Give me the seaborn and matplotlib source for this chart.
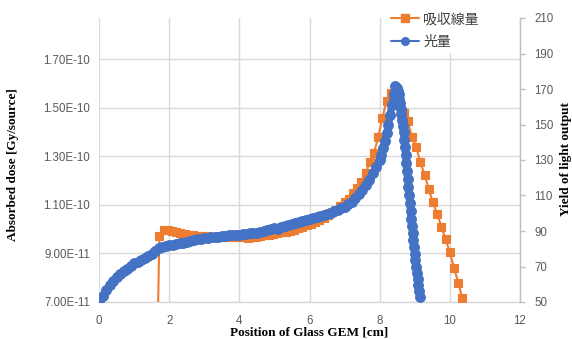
import matplotlib
matplotlib.use("Agg")
import matplotlib.pyplot as plt
import seaborn as sns
import pandas as pd
from matplotlib.ticker import FuncFormatter, FixedLocator
from matplotlib.lines import Line2D

# ---------------- data ----------------
# Absorbed dose (left axis) [Gy/source]
dose_x = [1.60, 1.72, 1.84, 1.96, 2.08, 2.20, 2.32, 2.44, 2.56, 2.68, 2.80, 2.92,
          3.04, 3.16, 3.28, 3.40, 3.52, 3.64, 3.76, 3.88, 4.00, 4.12, 4.24, 4.36,
          4.48, 4.60, 4.72, 4.84, 4.96, 5.08, 5.20, 5.32, 5.44, 5.56, 5.68, 5.80,
          5.92, 6.04, 6.16, 6.28, 6.40, 6.52, 6.64, 6.76, 6.88, 7.00, 7.12, 7.24,
          7.36, 7.48, 7.60, 7.72, 7.84, 7.96, 8.08, 8.20, 8.32, 8.44, 8.56, 8.68,
          8.80, 8.92, 9.04, 9.16, 9.28, 9.40, 9.52, 9.64, 9.76, 9.88, 10.00, 10.12,
          10.24, 10.36]
dose_y = [0.0, 9.70e-11, 9.95e-11, 9.97e-11, 9.93e-11, 9.88e-11, 9.84e-11, 9.80e-11,
          9.77e-11, 9.74e-11, 9.72e-11, 9.70e-11, 9.70e-11, 9.69e-11, 9.69e-11,
          9.68e-11, 9.68e-11, 9.67e-11, 9.67e-11, 9.67e-11, 9.67e-11, 9.66e-11,
          9.65e-11, 9.66e-11, 9.68e-11, 9.72e-11, 9.74e-11, 9.77e-11, 9.80e-11,
          9.84e-11, 9.87e-11, 9.90e-11, 9.94e-11, 9.98e-11, 1.004e-10, 1.010e-10,
          1.016e-10, 1.022e-10, 1.030e-10, 1.038e-10, 1.048e-10, 1.060e-10,
          1.070e-10, 1.080e-10, 1.095e-10, 1.110e-10, 1.125e-10, 1.150e-10,
          1.170e-10, 1.195e-10, 1.230e-10, 1.275e-10, 1.315e-10, 1.380e-10,
          1.460e-10, 1.530e-10, 1.562e-10, 1.555e-10, 1.510e-10, 1.480e-10,
          1.445e-10, 1.380e-10, 1.340e-10, 1.275e-10, 1.225e-10, 1.165e-10,
          1.110e-10, 1.062e-10, 1.010e-10, 9.58e-11, 9.05e-11, 8.40e-11, 7.80e-11,
          7.15e-11]

# Light yield (right axis)
light_x = [0.0, 0.1, 0.2, 0.3, 0.4, 0.5, 0.6, 0.7, 0.8, 0.9, 1.0, 1.1, 1.2, 1.3,
           1.4, 1.5, 1.6, 1.7, 1.8, 1.9, 2.0, 2.1, 2.2, 2.3, 2.4, 2.5, 2.6, 2.7,
           2.8, 2.9, 3.0, 3.1, 3.2, 3.3, 3.4, 3.5, 3.6, 3.7, 3.8, 3.9, 4.0, 4.1,
           4.2, 4.3, 4.4, 4.5, 4.6, 4.7, 4.8, 4.9, 5.0, 5.1, 5.2, 5.3, 5.4, 5.5,
           5.6, 5.7, 5.8, 5.9, 6.0, 6.1, 6.2, 6.3, 6.4, 6.5, 6.6, 6.7, 6.8, 6.9,
           7.0, 7.1, 7.2, 7.3, 7.4, 7.5, 7.6, 7.7, 7.8, 7.9, 8.0, 8.05, 8.1, 8.15,
           8.2, 8.25, 8.3, 8.35, 8.4, 8.45, 8.5, 8.52, 8.54, 8.56, 8.58, 8.6, 8.62,
           8.64, 8.66, 8.68, 8.7, 8.72, 8.74, 8.76, 8.78, 8.8, 8.82, 8.84, 8.86,
           8.88, 8.9, 8.92, 8.94, 8.96, 8.98, 9.0, 9.02, 9.04, 9.06, 9.08, 9.1,
           9.12, 9.14]
light_y = [50.5, 53.5, 56.5, 59.5, 62.0, 64.0, 66.0, 67.3, 68.8, 70.5, 71.8, 72.6,
           73.5, 74.8, 75.8, 77.0, 78.6, 80.3, 81.0, 81.6, 82.3, 81.9, 82.8, 83.4,
           83.0, 84.0, 84.3, 85.0, 85.6, 85.4, 85.9, 86.2, 86.5, 86.8, 86.6, 87.0,
           87.2, 87.6, 87.8, 87.5, 87.9, 88.3, 88.4, 88.7, 88.9, 89.1, 89.3, 89.8,
           90.3, 90.9, 91.6, 91.4, 92.4, 92.8, 93.5, 93.8, 94.6, 95.0, 95.4, 96.3,
           96.8, 97.2, 97.9, 98.4, 98.9, 99.6, 100.3, 101.1, 101.8, 102.7, 103.8,
           105.0, 106.6, 108.5, 110.8, 113.3, 116.0, 119.0, 122.5, 126.0, 130.0,
           133.0, 136.5, 140.5, 145.0, 150.0, 155.5, 161.0, 167.0, 171.5, 170.5,
           169.0, 167.0, 164.5, 162.0, 159.0, 156.0, 152.5, 149.0, 145.5, 141.5,
           137.5, 133.0, 128.5, 124.0, 119.5, 115.0, 110.5, 106.0, 101.5, 97.0,
           93.0, 89.0, 85.0, 81.0, 77.0, 73.5, 70.0, 66.5, 63.0, 59.5, 56.0, 53.0]

x_ticks = [0, 2, 4, 6, 8, 10, 12]
left_ticks = [7.0e-11, 9.0e-11, 1.1e-10, 1.3e-10, 1.5e-10, 1.7e-10]
right_ticks = [50, 70, 90, 110, 130, 150, 170, 190, 210]

series_dose = "吸収線量"
series_light = "光量"
x_title = "Position of Glass GEM [cm]"
left_title = "Absorbed dose [Gy/source]"
right_title = "Yield of light output"

# ---------------- style ----------------
sns.set_style("white")
ORANGE = "#ED7D31"
BLUE = "#4472C4"
GRID = "#D9D9D9"
TICKC = "#595959"
TICKFONT = ["Liberation Sans", "DejaVu Sans"]
TITLEFONT = ["Liberation Serif", "DejaVu Serif"]
CJK = ["Noto Sans CJK JP", "DejaVu Sans"]

W, H = 572, 339
fig = plt.figure(figsize=(W / 100, H / 100), dpi=100)
ax = fig.add_axes([99 / W, 37 / H, 421 / W, 284 / H])

df_dose = pd.DataFrame({"x": dose_x, "y": dose_y})
df_light = pd.DataFrame({"x": light_x, "y": light_y})

sns.lineplot(data=df_dose, x="x", y="y", ax=ax, color=ORANGE, marker="s",
             markersize=5.3, markeredgecolor=ORANGE, markeredgewidth=0.8,
             linewidth=1.5, estimator=None, sort=False, legend=False, zorder=3)

ax.set_xlim(0, 12)
ax.set_ylim(7.0e-11, 1.87e-10)
ax.xaxis.set_major_locator(FixedLocator(x_ticks))
ax.yaxis.set_major_locator(FixedLocator(left_ticks))
ax.yaxis.set_major_formatter(FuncFormatter(lambda v, p: f"{v:.2E}"))
ax.xaxis.set_major_formatter(FuncFormatter(lambda v, p: f"{v:.0f}"))
ax.grid(True, color=GRID, linewidth=1.0)
ax.set_axisbelow(True)
for s in ["left", "top", "right"]:
    ax.spines[s].set_visible(False)
ax.spines["bottom"].set_color(GRID)
ax.spines["bottom"].set_linewidth(1.0)
ax.tick_params(axis="both", length=0, colors=TICKC, labelsize=8.3)
ax.tick_params(axis="x", pad=9)
ax.tick_params(axis="y", pad=6.5)
for lab in ax.get_xticklabels() + ax.get_yticklabels():
    lab.set_family(TICKFONT)
ax.set_xlabel("")
ax.set_ylabel("")

ax2 = ax.twinx()
sns.lineplot(data=df_light, x="x", y="y", ax=ax2, color=BLUE, marker="o",
             markersize=7, markeredgecolor=BLUE, markeredgewidth=0.8,
             linewidth=5.2, estimator=None, sort=False, legend=False, zorder=4,
             solid_capstyle="round", solid_joinstyle="round")
ax2.set_ylim(50, 210)
ax2.yaxis.set_major_locator(FixedLocator(right_ticks))
ax2.yaxis.set_major_formatter(FuncFormatter(lambda v, p: f"{v:.0f}"))
for s in ["left", "top", "bottom"]:
    ax2.spines[s].set_visible(False)
ax2.spines["right"].set_color("#BFBFBF")
ax2.spines["right"].set_linewidth(1.0)
ax2.tick_params(axis="y", length=3.6, width=1.0, color="#BFBFBF",
                labelcolor=TICKC, labelsize=8.3, pad=6.5, direction="out")
for lab in ax2.get_yticklabels():
    lab.set_family(TICKFONT)
ax2.set_xlabel("")
ax2.set_ylabel("")
ax2.grid(False)

# titles
fig.text(309.5 / W, 1 - 332.5 / H, x_title, ha="center", va="center",
         family=TITLEFONT, fontweight="bold", fontsize=9.5, color="black")
fig.text(13 / W, 1 - 165 / H, left_title, ha="center", va="center", rotation=90,
         family=TITLEFONT, fontweight="bold", fontsize=9.5, color="black")
fig.text(566 / W, 1 - 159 / H, right_title, ha="center", va="center", rotation=90,
         family=TITLEFONT, fontweight="bold", fontsize=9.5, color="black")

# legend
handles = [
    Line2D([], [], color=ORANGE, marker="s", markersize=5.5, linewidth=1.5,
           markeredgecolor=ORANGE),
    Line2D([], [], color=BLUE, marker="o", markersize=5.5, linewidth=1.5,
           markeredgecolor=BLUE),
]
leg = ax2.legend(handles, [series_dose, series_light], loc="upper left",
                 bbox_to_anchor=(387 / W, 1 - 8 / H), bbox_transform=fig.transFigure,
                 frameon=True, facecolor="white", edgecolor="none", framealpha=1.0,
                 fancybox=False, borderpad=0.3, borderaxespad=0, handlelength=2.0,
                 handletextpad=0.3, labelspacing=0.6,
                 prop={"family": CJK, "size": 10})
for t in leg.get_texts():
    t.set_color("#404040")
leg.set_zorder(10)

fig.savefig("out.png", dpi=100)
